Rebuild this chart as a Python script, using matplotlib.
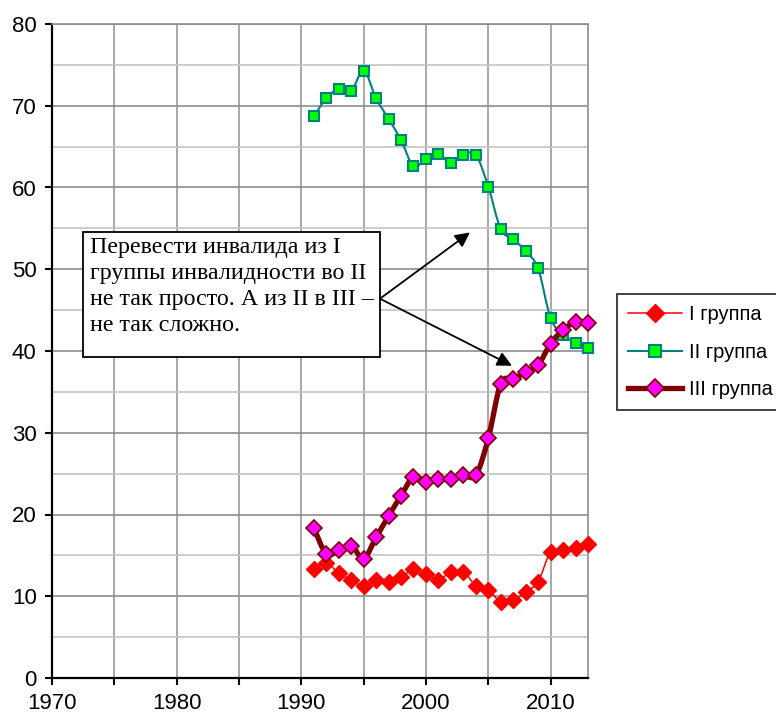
import matplotlib
matplotlib.use("Agg")
import matplotlib.pyplot as plt
from matplotlib.path import Path
from matplotlib.patches import PathPatch, Rectangle, FancyArrowPatch
from matplotlib.lines import Line2D
import numpy as np

years = list(range(1991, 2014))
group1 = [13.3, 14.1, 12.8, 12.0, 11.2, 12.0, 11.8, 12.3, 13.3, 12.7, 12.0, 13.0,
          13.0, 11.3, 10.8, 9.3, 9.5, 10.5, 11.8, 15.4, 15.6, 15.9, 16.4]
group2 = [68.7, 70.9, 72.1, 71.8, 74.3, 70.9, 68.4, 65.8, 62.6, 63.5, 64.1, 63.0,
          64.0, 64.0, 60.1, 54.9, 53.7, 52.2, 50.1, 44.0, 42.0, 41.0, 40.4]
group3 = [18.4, 15.2, 15.6, 16.2, 14.6, 17.2, 19.8, 22.3, 24.6, 24.0, 24.3, 24.3,
          24.8, 24.8, 29.3, 36.0, 36.6, 37.4, 38.3, 40.9, 42.6, 43.5, 43.4]
labels = ["I группа", "II группа", "III группа"]
note = ("Перевести инвалида из I\nгруппы инвалидности во II\n"
        "не так просто. А из II в III –\nне так сложно.")

plt.rcParams['font.family'] = ['Liberation Sans', 'DejaVu Sans']

fig = plt.figure(figsize=(7.76, 7.13), dpi=100)
ax = fig.add_axes([52/776, 1-678/713, (588-52)/776, (678-24)/713])
ax.set_xlim(1970, 2013)
ax.set_ylim(0, 80)


def smooth_path(x, y):
    x = np.asarray(x, float); y = np.asarray(y, float)
    n = len(x)
    verts = [(x[0], y[0])]
    codes = [Path.MOVETO]
    for i in range(n - 1):
        p0 = i - 1 if i > 0 else i
        p3 = i + 2 if i + 2 < n else i + 1
        c1 = (x[i] + (x[i+1] - x[p0]) / 6, y[i] + (y[i+1] - y[p0]) / 6)
        c2 = (x[i+1] - (x[p3] - x[i]) / 6, y[i+1] - (y[p3] - y[i]) / 6)
        verts += [c1, c2, (x[i+1], y[i+1])]
        codes += [Path.CURVE4] * 3
    return Path(verts, codes)


# grid
ax.set_xticks(np.arange(1970, 2014, 5))
ax.set_xticklabels([str(v) if v % 10 == 0 else "" for v in range(1970, 2014, 5)])
ax.set_yticks(np.arange(0, 81, 10))
ax.set_yticks(np.arange(5, 80, 10), minor=True)
ax.tick_params(axis='y', which='minor', length=0)
ax.grid(True, axis='x', which='major', color='#9a9a9a', lw=1.2, zorder=0)
ax.grid(True, axis='y', which='major', color='#8e8e8e', lw=1.2, zorder=0)
ax.grid(True, axis='y', which='minor', color='#c4c4c4', lw=1.2, zorder=0)
ax.set_axisbelow(True)

for s in ['left', 'bottom']:
    ax.spines[s].set_color('black')
    ax.spines[s].set_linewidth(1.6)
for s in ['top', 'right']:
    ax.spines[s].set_color('#8e8e8e')
    ax.spines[s].set_linewidth(1.2)

ax.tick_params(axis='both', which='major', direction='out', length=5, width=1.5,
               labelsize=16, colors='black')
ax.tick_params(axis='x', pad=6)
ax.tick_params(axis='y', pad=6)

styles = [
    dict(data=group1, color='#ff0000', lw=1.1, marker='D', mfc='#ff0000', mec='#ff0000', ms=8, mew=1.0),
    dict(data=group2, color='#008080', lw=1.5, marker='s', mfc='#00ff00', mec='#008080', ms=7.5, mew=1.5),
    dict(data=group3, color='#800000', lw=3.8, marker='D', mfc='#ff00ff', mec='#800000', ms=8, mew=1.2),
]
handles = []
for i, st in enumerate(styles):
    z = 3 + i
    patch = PathPatch(smooth_path(years, st['data']), facecolor='none',
                      edgecolor=st['color'], lw=st['lw'], zorder=z,
                      capstyle='round', joinstyle='round')
    ax.add_patch(patch)
    ax.plot(years, st['data'], linestyle='none', marker=st['marker'],
            mfc=st['mfc'], mec=st['mec'], ms=st['ms'], mew=st['mew'],
            zorder=z + 0.5, clip_on=False)
    handles.append(Line2D([0], [0], color=st['color'], lw=st['lw'], marker=st['marker'],
                          mfc=st['mfc'], mec=st['mec'], ms=st['ms'] + 1, mew=st['mew']))

# annotation box
bx0, bx1, by0, by1 = 1972.51, 1996.31, 39.3, 54.6
rect = Rectangle((bx0, by0), bx1 - bx0, by1 - by0, facecolor='white',
                 edgecolor='black', lw=1.3, zorder=10)
ax.add_patch(rect)
ax.text(bx0 + 0.55, by1 - 0.7, note, family=['Liberation Serif', 'DejaVu Serif'],
        fontsize=17.3, va='top', ha='left', linespacing=1.3, zorder=11)

origin = (1996.31, 46.4)
for tip in [(2003.53, 54.5), (2006.9, 38.2)]:
    arr = FancyArrowPatch(origin, tip, arrowstyle='-|>', mutation_scale=22,
                          color='black', lw=1.3, zorder=12, shrinkA=0, shrinkB=0)
    ax.add_patch(arr)

leg = fig.legend(handles, labels, loc='upper left',
                 bbox_to_anchor=(616.7/776, 1-294/713), frameon=True,
                 fancybox=False, fontsize=14.5, handlelength=2.7, handletextpad=0.35,
                 labelspacing=0.92, borderpad=0.55, borderaxespad=0)
leg.get_frame().set_edgecolor('black')
leg.get_frame().set_linewidth(1.3)

fig.savefig('out.png', dpi=100)
